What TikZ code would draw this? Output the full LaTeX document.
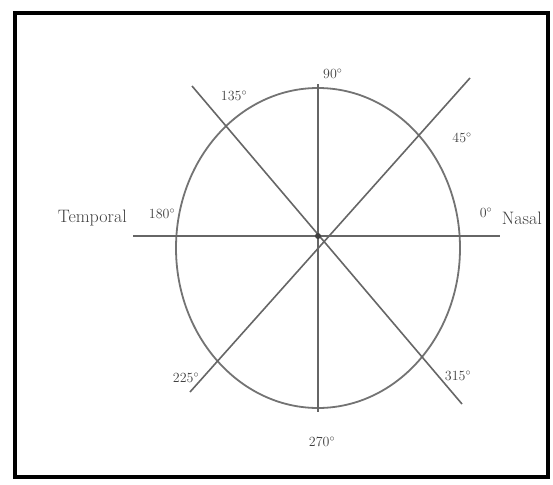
\documentclass[tikz,border=0pt]{standalone}
\usepackage{tikz}
\usetikzlibrary{positioning,calc}
\tikzset{
  frame/.style={draw=black, line width=4pt},
  field/.style={draw=black!55, line width=1.8pt},
  meridian/.style={draw=black!60, line width=1.6pt},
  deglbl/.style={font=\fontsize{14}{15}\selectfont, text=black!75, inner sep=1pt},
  sidelbl/.style={font=\fontsize{18}{19}\selectfont, text=black!75, inner sep=1pt},
}
\begin{document}
\begin{tikzpicture}[x=1pt,y=-1pt]
\useasboundingbox (0,0) rectangle (553,484);
\draw[frame] (15,13) rectangle (548,477);
% centre and meridian ends
\coordinate (c) at (318,236);
\coordinate (e) at (318,248);
\coordinate (hL) at (133,236);
\coordinate (hR) at (500,236);
\coordinate (vT) at (318,84);
\coordinate (vB) at (318,412);
\coordinate (dNE) at (470,78);
\coordinate (dSW) at (190,392);
\coordinate (dNW) at (192,86);
\coordinate (dSE) at (462,404);
\draw[field] (e) ellipse [x radius=142, y radius=160];
\draw[meridian] (hL) -- (hR);
\draw[meridian] (vT) -- (vB);
\draw[meridian] (dSW) -- (dNE);
\draw[meridian] (dNW) -- (dSE);
\fill[black!75] (c) circle (3);
% side labels
\node[sidelbl, anchor=east] (temporal) at (128,218) {Temporal};
\node[sidelbl, anchor=east] (nasal) at (543,218) {Nasal};
% degree labels
\node[deglbl] (d180) at (162,214) {180$^{\circ}$};
\node[deglbl] (d0) at (486,213) {0$^{\circ}$};
\node[deglbl, anchor=west] (d90) at (322,74) {90$^{\circ}$};
\node[deglbl] (d45) at (462,138) {45$^{\circ}$};
\node[deglbl] (d135) at (234,96) {135$^{\circ}$};
\node[deglbl] (d225) at (186,378) {225$^{\circ}$};
\node[deglbl] (d270) at (322,442) {270$^{\circ}$};
\node[deglbl] (d315) at (458,376) {315$^{\circ}$};
\end{tikzpicture}
\end{document}
